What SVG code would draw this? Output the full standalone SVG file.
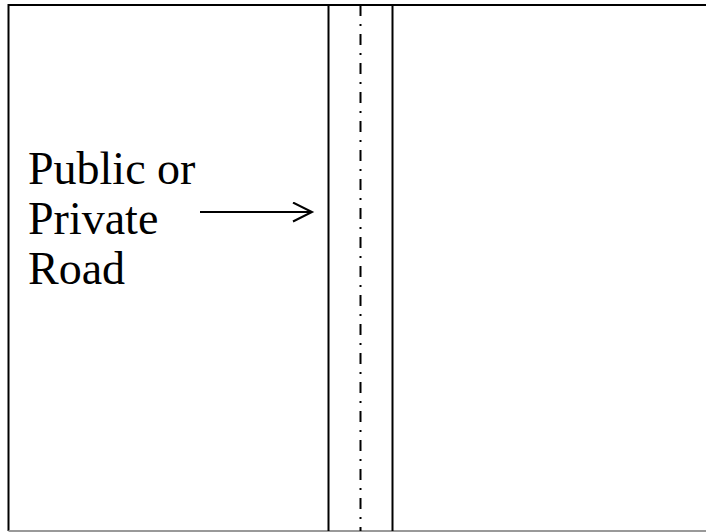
<svg xmlns="http://www.w3.org/2000/svg" width="706" height="532" viewBox="0 0 706 532">
<style>
.ln{stroke:#000;stroke-width:2;fill:none}
.lbl{font-family:"Liberation Serif","DejaVu Serif",serif;font-size:46px;fill:#000}
</style>
<defs>
<marker id="ah" markerWidth="24" markerHeight="24" refX="20" refY="10" orient="auto" markerUnits="userSpaceOnUse">
<path d="M1,0.5 L20,10 L1,19.5" fill="none" stroke="#000" stroke-width="2"/>
</marker>
</defs>
<rect width="706" height="532" fill="#fff"/>
<g id="site">
<path class="ln" d="M8.5,531 L8.5,5 L708,5"/>
<line x1="8.5" y1="531" x2="708" y2="531" stroke="#999" stroke-width="2"/>
</g>
<g id="road">
<line class="ln" x1="328.5" y1="5" x2="328.5" y2="531"/>
<line class="ln" x1="392.5" y1="5" x2="392.5" y2="531"/>
<line x1="360.5" y1="5" x2="360.5" y2="531" stroke="#000" stroke-width="2" stroke-dasharray="11,8,2,8"/>
</g>
<g id="label">
<text class="lbl" x="28" y="184">Public or</text>
<text class="lbl" x="28" y="234">Private</text>
<text class="lbl" x="28" y="284">Road</text>
</g>
<g id="connectors">
<line x1="200" y1="212" x2="312" y2="212" stroke="#000" stroke-width="2" marker-end="url(#ah)"/>
</g>
</svg>
